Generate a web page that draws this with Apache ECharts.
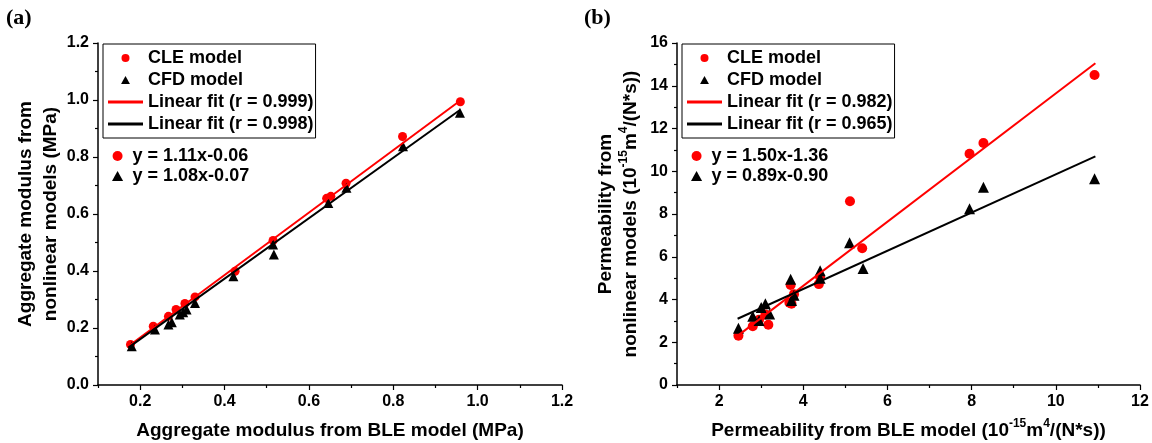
<!DOCTYPE html>
<html>
<head>
<meta charset="utf-8">
<title>Aggregate modulus and permeability</title>
<script src="https://cdn.jsdelivr.net/npm/echarts@6/dist/echarts.min.js"></script>
<style>
    html, body { margin: 0; padding: 0; background: #fff; }
    #chart { width: 1152px; height: 443px; }
</style>
</head>
<body>
<div id="chart"></div>
<script>
// ==============================================================
// data (a) aggregate modulus, MPa
// ==============================================================
var cleAx = [0.177, 0.231, 0.267, 0.285, 0.306, 0.330, 0.425, 0.515, 0.642, 0.652, 0.688, 0.822, 0.959];
var cleAy = [0.142, 0.206, 0.241, 0.265, 0.286, 0.309, 0.399, 0.507, 0.655, 0.662, 0.708, 0.872, 0.994];
var cfdAx = [0.180, 0.235, 0.267, 0.275, 0.294, 0.302, 0.310, 0.330, 0.421, 0.515, 0.517, 0.646, 0.689, 0.823, 0.958];
var cfdAy = [0.136, 0.195, 0.212, 0.220, 0.247, 0.255, 0.265, 0.288, 0.382, 0.493, 0.458, 0.639, 0.692, 0.838, 0.955];
var fitRedAx = [0.172, 0.959];
var fitRedAy = [0.136, 0.998];
var fitBlkAx = [0.172, 0.958];
var fitBlkAy = [0.131, 0.965];
var ticksAx = [0.2, 0.4, 0.6, 0.8, 1.0, 1.2];
var minorAx = [0.1, 0.3, 0.5, 0.7, 0.9, 1.1];
var ticksAy = [0, 0.2, 0.4, 0.6, 0.8, 1.0, 1.2];
var minorAy = [0.1, 0.3, 0.5, 0.7, 0.9, 1.1];
var fitNamesA = ['Linear fit (r = 0.999)', 'Linear fit (r = 0.998)'];
var eqA = ['y = 1.11x-0.06', 'y = 1.08x-0.07'];

// ==============================================================
// data (b) permeability, 10^-15 m^4/(N*s)
// ==============================================================
var cleBx = [2.46, 2.80, 2.95, 3.10, 3.17, 3.67, 3.72, 3.70, 3.78, 4.37, 4.40, 5.11, 5.40, 7.95, 8.28, 10.92];
var cleBy = [2.30, 2.75, 3.05, 3.30, 2.82, 3.85, 3.80, 4.68, 4.25, 4.72, 5.05, 8.60, 6.40, 10.82, 11.32, 14.50];
var cfdBx = [2.46, 2.80, 2.95, 3.00, 3.10, 3.20, 3.70, 3.72, 3.78, 4.40, 4.40, 5.10, 5.42, 7.95, 8.28, 10.92];
var cfdBy = [2.65, 3.22, 3.02, 3.62, 3.80, 3.32, 4.95, 3.95, 4.20, 5.35, 5.00, 6.65, 5.45, 8.25, 9.25, 9.65];
var fitRedBx = [2.44, 10.94];
var fitRedBy = [2.30, 15.05];
var fitBlkBx = [2.44, 10.94];
var fitBlkBy = [3.10, 10.70];
var ticksBx = [2, 4, 6, 8, 10, 12];
var minorBx = [1, 3, 5, 7, 9, 11];
var ticksBy = [0, 2, 4, 6, 8, 10, 12, 14, 16];
var minorBy = [1, 3, 5, 7, 9, 11, 13, 15];
var fitNamesB = ['Linear fit (r = 0.982)', 'Linear fit (r = 0.965)'];
var eqB = ['y = 1.50x-1.36', 'y = 0.89x-0.90'];

var RED = '#ff0000';
var BLACK = '#000000';
var FONT = 'Liberation Sans, Arial, sans-serif';
var TRI = 'path://M5,0L10,9L0,9Z';
var BAR = 'path://M0,0H35V3H0Z';

function pts(xs, ys) {
    return xs.map(function (x, i) { return [x, ys[i]]; });
}

function font(size, more) {
    var o = { color: BLACK, fontFamily: FONT, fontWeight: 'bold', fontSize: size };
    for (var k in more) o[k] = more[k];
    return o;
}
var richTitle = {
    t: font(19),
    s: font(12, { verticalAlign: 'top' })
};

// major axis: line, long ticks and labels
function majorAxis(grid, pos, min, max, ticks, digits, name, gap) {
    return {
        type: 'value', gridIndex: grid, position: pos, min: min, max: max,
        splitLine: { show: false },
        axisLine: { onZero: false, lineStyle: { color: BLACK, width: 1.5 } },
        axisTick: { customValues: ticks, length: 5, lineStyle: { color: BLACK, width: 1.2 } },
        axisLabel: {
            customValues: ticks, margin: 9, color: BLACK, fontFamily: FONT, fontWeight: 'bold', fontSize: 16,
            formatter: function (v) { return v.toFixed(digits); }
        },
        name: name, nameLocation: 'middle', nameGap: gap,
        nameTextStyle: font(19, { lineHeight: 25, rich: richTitle })
    };
}
// minor ticks only, drawn on the same side as the major axis
function minorAxis(grid, pos, min, max, ticks) {
    return {
        type: 'value', gridIndex: grid, position: pos, min: min, max: max,
        splitLine: { show: false },
        axisLine: { show: false, onZero: false },
        axisLabel: { show: false },
        axisTick: { customValues: ticks, length: 3, lineStyle: { color: BLACK, width: 1.2 } }
    };
}

function boxLegend(left, fitNames) {
    return {
        orient: 'vertical', left: left, top: 44,
        padding: [5, 2, 5, 5], itemGap: 4, itemWidth: 35, itemHeight: 8,
        borderColor: BLACK, borderWidth: 1, selectedMode: false,
        textStyle: font(18),
        data: [
            { name: 'CLE model', icon: 'circle', itemStyle: { color: RED, borderWidth: 0 } },
            { name: 'CFD model', icon: TRI, itemStyle: { color: BLACK, borderWidth: 0 } },
            { name: fitNames[0], icon: BAR, itemStyle: { color: RED, borderWidth: 0 } },
            { name: fitNames[1], icon: BAR, itemStyle: { color: BLACK, borderWidth: 0 } }
        ]
    };
}
function eqLegend(left, eqs) {
    return {
        orient: 'vertical', left: left, top: 147,
        padding: 0, itemGap: 2, itemWidth: 20, itemHeight: 10, selectedMode: false,
        textStyle: font(18),
        formatter: function (name) { return name === 'CLE model' ? eqs[0] : eqs[1]; },
        data: [
            { name: 'CLE model', icon: 'circle', itemStyle: { color: RED, borderWidth: 0 } },
            { name: 'CFD model', icon: TRI, itemStyle: { color: BLACK, borderWidth: 0 } }
        ]
    };
}

function panelSeries(idx, cle, cfd, fitRed, fitBlk, names, dot, tri) {
    return [
        { name: 'CLE model', type: 'scatter', xAxisIndex: idx, yAxisIndex: idx, data: cle,
          symbol: 'circle', symbolSize: dot, itemStyle: { color: RED, opacity: 1 } },
        { name: 'CFD model', type: 'scatter', xAxisIndex: idx, yAxisIndex: idx, data: cfd,
          symbol: 'triangle', symbolSize: tri, itemStyle: { color: BLACK, opacity: 1 } },
        { name: names[0], type: 'line', xAxisIndex: idx, yAxisIndex: idx, data: fitRed,
          showSymbol: false, symbol: 'none', itemStyle: { color: RED }, lineStyle: { color: RED, width: 2 } },
        { name: names[1], type: 'line', xAxisIndex: idx, yAxisIndex: idx, data: fitBlk,
          showSymbol: false, symbol: 'none', itemStyle: { color: BLACK }, lineStyle: { color: BLACK, width: 2 } }
    ];
}

var chart = echarts.init(document.getElementById('chart'), null, { renderer: 'canvas' });

var option = {
    backgroundColor: '#fff',
    animation: false,
    title: [
        { text: '(a)', left: 6, top: 7, padding: 0,
          textStyle: { color: BLACK, fontFamily: 'Liberation Serif, Times New Roman, serif', fontWeight: 'bold', fontSize: 22 } },
        { text: '(b)', left: 584, top: 7, padding: 0,
          textStyle: { color: BLACK, fontFamily: 'Liberation Serif, Times New Roman, serif', fontWeight: 'bold', fontSize: 22 } }
    ],
    grid: [
        { left: 98, top: 43, width: 464, height: 342, outerBoundsMode: 'none' },
        { left: 677, top: 43, width: 463, height: 342, outerBoundsMode: 'none' }
    ],
    xAxis: [
        majorAxis(0, 'bottom', 0.1, 1.2, ticksAx, 1, '{t|Aggregate modulus from BLE model (MPa)}', 33),
        majorAxis(1, 'bottom', 1, 12, ticksBx, 0, '{t|Permeability from BLE model (10}{s|-15}{t|m}{s|4}{t|/(N*s))}', 33),
        minorAxis(0, 'bottom', 0.1, 1.2, minorAx),
        minorAxis(1, 'bottom', 1, 12, minorBx)
    ],
    yAxis: [
        majorAxis(0, 'left', 0, 1.2, ticksAy, 1, '{t|Aggregate modulus from}\n{t|nonlinear models (MPa)}', 34),
        majorAxis(1, 'left', 0, 16, ticksBy, 0, '{t|Permeability from}\n{t|nonlinear models (10}{s|-15}{t|m}{s|4}{t|/(N*s))}', 34),
        minorAxis(0, 'left', 0, 1.2, minorAy),
        minorAxis(1, 'left', 0, 16, minorBy)
    ],
    legend: [
        boxLegend(103, fitNamesA),
        eqLegend(112, eqA),
        boxLegend(682, fitNamesB),
        eqLegend(691, eqB)
    ],
    series: panelSeries(0, pts(cleAx, cleAy), pts(cfdAx, cfdAy), pts(fitRedAx, fitRedAy), pts(fitBlkAx, fitBlkAy), fitNamesA, 9, 10)
        .concat(panelSeries(1, pts(cleBx, cleBy), pts(cfdBx, cfdBy), pts(fitRedBx, fitRedBy), pts(fitBlkBx, fitBlkBy), fitNamesB, 10, 11))
};

chart.setOption(option);
</script>
</body>
</html>
